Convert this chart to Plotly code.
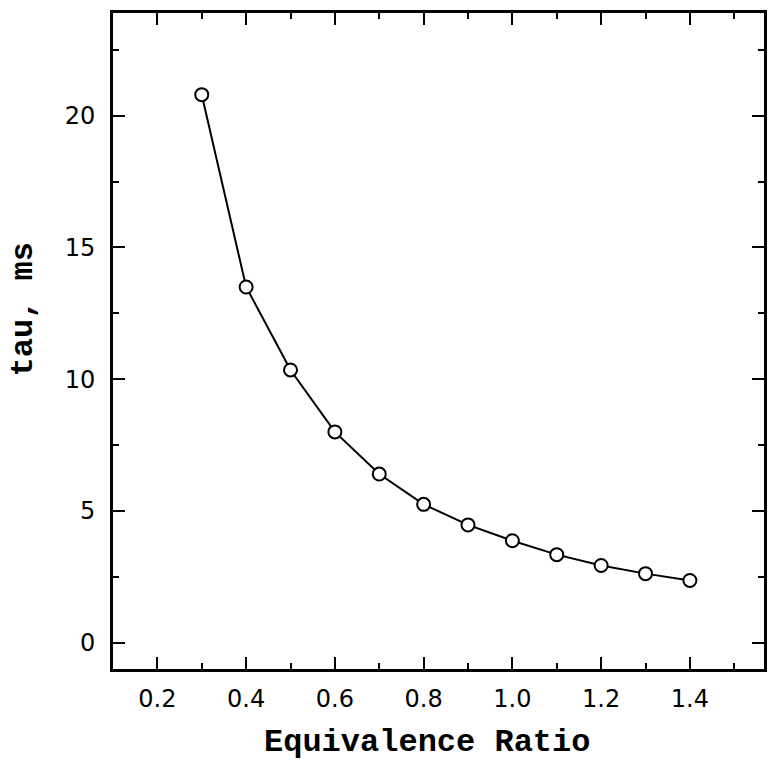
import plotly.graph_objects as go

phi = [0.3, 0.4, 0.5, 0.6, 0.7, 0.8, 0.9, 1.0, 1.1, 1.2, 1.3, 1.4]
tau = [20.8, 13.5, 10.35, 8.0, 6.4, 5.25, 4.47, 3.87, 3.34, 2.93, 2.62, 2.36]

x_ticks = [0.2, 0.4, 0.6, 0.8, 1.0, 1.2, 1.4]
x_labels = ["0.2", "0.4", "0.6", "0.8", "1.0", "1.2", "1.4"]
y_ticks = [0, 5, 10, 15, 20]
x_title = "Equivalence Ratio"
y_title = "tau, ms"

fig = go.Figure()
fig.add_trace(go.Scatter(
    x=phi, y=tau, mode="lines+markers",
    line=dict(color="black", width=2),
    marker=dict(symbol="circle", size=13, color="white",
                line=dict(color="black", width=2)),
    showlegend=False,
))

tickfont = dict(family="DejaVu Sans", size=24, color="black")
titlefont = dict(family="Liberation Mono", size=32, color="black")

fig.update_xaxes(
    range=[0.1, 1.567], tickvals=x_ticks, ticktext=x_labels,
    ticks="inside", ticklen=12, tickwidth=2, tickcolor="black",
    minor=dict(dtick=0.1, tick0=0.1, ticks="inside", ticklen=6, tickwidth=2, tickcolor="black"),
    showline=True, linecolor="black", linewidth=3, mirror="ticks",
    showgrid=False, zeroline=False, tickfont=tickfont, ticklabelstandoff=6,
)
fig.update_yaxes(
    range=[-1.0, 23.9], tickvals=y_ticks,
    ticks="inside", ticklen=12, tickwidth=2, tickcolor="black",
    minor=dict(dtick=2.5, tick0=0, ticks="inside", ticklen=6, tickwidth=2, tickcolor="black"),
    showline=True, linecolor="black", linewidth=3, mirror="ticks",
    showgrid=False, zeroline=False, tickfont=tickfont, ticklabelstandoff=10,
)
fig.add_annotation(text="<b>" + x_title + "</b>", xref="paper", yref="paper",
                   x=0.4817, y=-0.1128, showarrow=False, font=titlefont,
                   xanchor="center", yanchor="middle")
fig.add_annotation(text="<b>" + y_title + "</b>", xref="paper", yref="paper",
                   x=-0.136, y=0.5488, showarrow=False, font=titlefont,
                   textangle=-90, xanchor="center", yanchor="middle")
fig.update_layout(
    width=769, height=760,
    margin=dict(l=113, r=2, t=13, b=91),
    plot_bgcolor="white", paper_bgcolor="white",
)
fig.write_html("out.html")
